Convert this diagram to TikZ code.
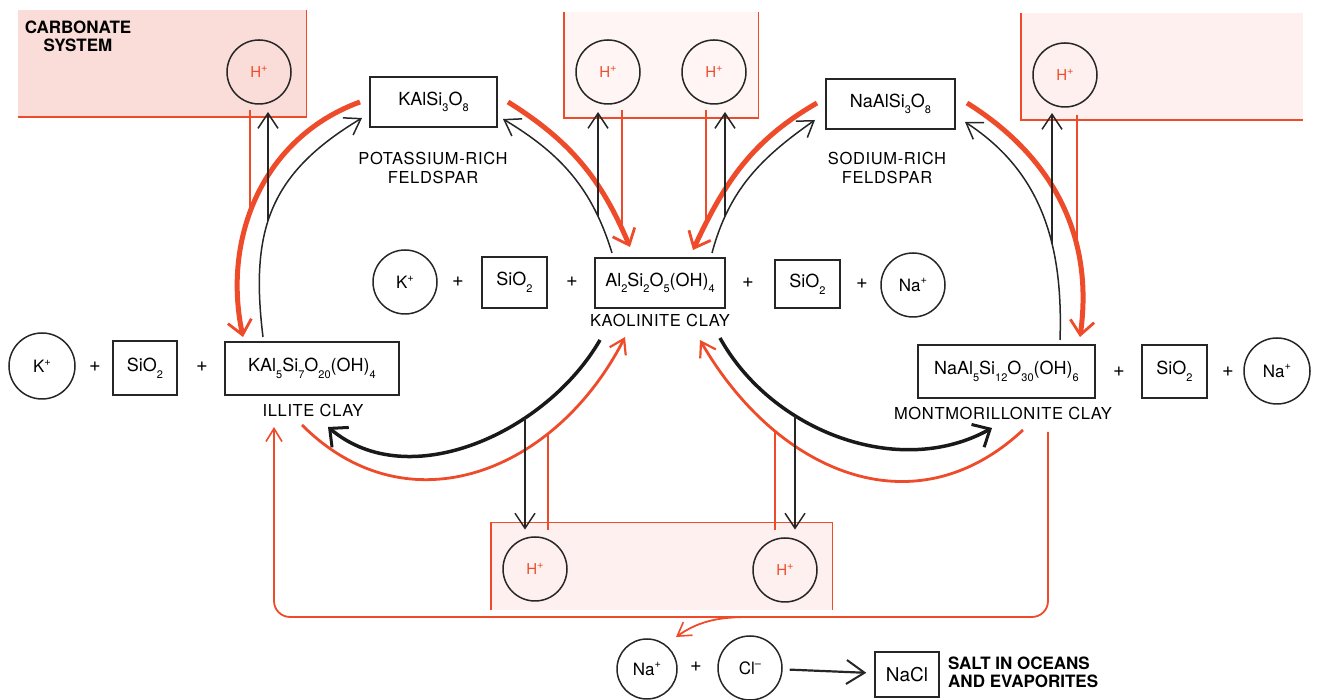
\documentclass[tikz,border=0pt]{standalone}
\usepackage{fontspec}
\setmainfont{TeX Gyre Heros}
\newfontfamily\spacedfont[LetterSpace=4]{TeX Gyre Heros}
\usetikzlibrary{arrows.meta,intersections,calc}
\definecolor{rd}{HTML}{EE4B2B}
\definecolor{pinkA}{HTML}{FADCD9}
\definecolor{pinkB}{HTML}{FEF5F4}
\definecolor{pinkC}{HTML}{FDF0EE}
\newcommand\chsub[1]{\raisebox{-0.7ex}{\fontsize{11}{11}\selectfont #1}}
\newcommand\chsup[1]{\raisebox{0.8ex}{\fontsize{11}{11}\selectfont #1}}
\tikzset{
  ion/.style={circle, draw=black!85, line width=1.5pt, minimum size=64pt, inner sep=0pt,
    font=\fontsize{17}{17}\selectfont},
  hion/.style={ion, text=rd, font=\fontsize{15}{15}\selectfont},
  frm/.style={draw=black!85, line width=1.5pt, inner sep=0pt, font=\fontsize{18}{18}\selectfont},
  lbl/.style={font=\spacedfont\fontsize{16.5}{19}\selectfont, align=center, inner sep=0pt},
  capt/.style={font=\bfseries\fontsize{17}{17.5}\selectfont, inner sep=0pt},
  plus/.style={font=\fontsize{20}{20}\selectfont, inner sep=0pt},
  pinkbox/.style={inner sep=0pt, anchor=south west},
  redge/.style={draw=rd, line width=1.5pt},
  barb/.style={-{Straight Barb[length=15pt,width=20pt]}},
  thinarc/.style={draw=black!85, line width=1.5pt, barb},
  thickarc/.style={draw=black!90, line width=3.5pt,
    -{Straight Barb[length=14pt,width=26pt,line width=3pt]}},
  redthick/.style={draw=rd, line width=5pt,
    -{Straight Barb[length=14pt,width=24pt,line width=2.8pt]}},
  redlow/.style={draw=rd, line width=2.8pt,
    -{Straight Barb[length=14pt,width=18pt,line width=2.2pt]}},
  redthin/.style={draw=rd, line width=1.8pt},
  upline/.style={draw=black!85, line width=1.5pt, barb},
}
\begin{document}
\begin{tikzpicture}[x=1pt,y=1pt]
\useasboundingbox (0,0) rectangle (1318,700);

% reservoirs of hydrogen ions
\node[pinkbox, fill=pinkA, minimum width=288pt, minimum height=107pt] (carb) at (18,583) {};
\node[pinkbox, fill=pinkB, minimum width=194pt, minimum height=106pt] (midbox) at (564,582) {};
\node[pinkbox, fill=pinkC, minimum width=282pt, minimum height=107pt] (rbox) at (1021,580) {};
\node[pinkbox, fill=pinkC, minimum width=341pt, minimum height=87pt] (bbox) at (491,90) {};
\draw[redge] (carb.north east) -- (carb.south east) -- (carb.south west);
\draw[redge] (midbox.north west) -- (midbox.south west) -- (midbox.south east) -- (midbox.north east);
\draw[redge] (rbox.north west) -- (rbox.south west) -- (rbox.south east);
\draw[redge] (bbox.south west) -- (bbox.north west) -- (bbox.north east) -- (bbox.south east);

\node[capt, align=center] (carbtxt) at (78,663.5) {CARBONATE\\SYSTEM};

% hydrogen ions
\node[hion] (h1) at (259,628) {H\chsup{+}};
\node[hion] (h2) at (608,628) {H\chsup{+}};
\node[hion] (h3) at (714,628) {H\chsup{+}};
\node[hion] (h4) at (1065,625) {H\chsup{+}};
\node[hion] (h5) at (535,131) {H\chsup{+}};
\node[hion] (h6) at (785,130) {H\chsup{+}};

% feldspars
\node[frm, minimum width=127pt, minimum height=50pt] (kfs) at (433.5,598) {KAlSi\chsub{3}O\chsub{8}};
\node[lbl] (kfslbl) at (433,532.5) {POTASSIUM-RICH\\FELDSPAR};
\node[frm, minimum width=129pt, minimum height=50pt] (nafs) at (890.5,596) {NaAlSi\chsub{3}O\chsub{8}};
\node[lbl] (nafslbl) at (887,532) {SODIUM-RICH\\FELDSPAR};

% kaolinite row
\node[ion] (kmid) at (405,418) {K\chsup{+}};
\node[plus] (p1) at (458,418) {+};
\node[frm, minimum width=65pt, minimum height=51pt] (si1) at (514.5,417.5) {SiO\chsub{2}};
\node[plus] (p2) at (572,418) {+};
\node[frm, minimum width=130pt, minimum height=50pt] (kao) at (660,417) {Al\chsub{2}Si\chsub{2}O\chsub{5}(OH)\chsub{4}};
\node[lbl] (kaolbl) at (660,380) {KAOLINITE CLAY};
\node[plus] (p3) at (748,417) {+};
\node[frm, minimum width=65pt, minimum height=48pt] (si2) at (807.5,416) {SiO\chsub{2}};
\node[plus] (p4) at (862,416) {+};
\node[ion] (namid) at (913,415) {Na\chsup{+}};

% illite row
\node[ion, minimum size=66pt] (kleft) at (42,334) {K\chsup{+}};
\node[plus] (p5) at (95,333) {+};
\node[frm, minimum width=64pt, minimum height=54pt] (si3) at (145,332) {SiO\chsub{2}};
\node[plus] (p6) at (202,333) {+};
\node[frm, minimum width=174pt, minimum height=53pt] (ill) at (312,331.5) {KAl\chsub{5}Si\chsub{7}O\chsub{20}(OH)\chsub{4}};
\node[lbl] (illlbl) at (313,290) {ILLITE CLAY};

% montmorillonite row
\node[frm, minimum width=177pt, minimum height=53pt] (mont) at (1006.5,328.5) {NaAl\chsub{5}Si\chsub{12}O\chsub{30}(OH)\chsub{6}};
\node[lbl] (montlbl) at (1003,287) {MONTMORILLONITE CLAY};
\node[plus] (p7) at (1119,328) {+};
\node[frm, minimum width=65pt, minimum height=53pt] (si4) at (1174.5,328.5) {SiO\chsub{2}};
\node[plus] (p8) at (1228,328) {+};
\node[ion, minimum size=66pt] (naright) at (1277,329) {Na\chsup{+}};

% salt
\node[ion, minimum size=60pt] (nabot) at (647,31) {Na\chsup{+}};
\node[plus] (p9) at (696,33) {+};
\node[ion] (clbot) at (750,32) {Cl\chsup{--}};
\node[frm, minimum width=64pt, minimum height=45pt, font=\fontsize{19}{19}\selectfont] (nacl) at (907,25.5) {NaCl};
\node[capt, align=left, anchor=west] (salttxt) at (948,27.5) {SALT IN OCEANS\\AND EVAPORITES};
\draw[draw=black!85, line width=2.2pt, -{Straight Barb[length=18pt,width=24pt,line width=2pt]},
  shorten <=7pt, shorten >=8pt] (clbot) -- (nacl);

% arc end points
\coordinate (a1s) at (360,598);  \coordinate (a1e) at (243,363);
\coordinate (a2s) at (263,363);  \coordinate (a2e) at (362,582);
\coordinate (a3s) at (508,598);  \coordinate (a3e) at (630,453);
\coordinate (a4s) at (612,447);  \coordinate (a4e) at (503,581);
\coordinate (a5s) at (817,597);  \coordinate (a5e) at (693,450);
\coordinate (a6s) at (712,447);  \coordinate (a6e) at (815,580);
\coordinate (a7s) at (967,597);  \coordinate (a7e) at (1080,363);
\coordinate (a8s) at (1060,360); \coordinate (a8e) at (965,578);
\coordinate (b1s) at (600,360);  \coordinate (b1e) at (328,273);
\coordinate (b2s) at (302,275);  \coordinate (b2e) at (625,363);
\coordinate (b3s) at (720,362);  \coordinate (b3e) at (992,272);
\coordinate (b4s) at (1023,270); \coordinate (b4e) at (700,360);

% weathering and reverse-weathering arcs
\draw[redthick, name path=rA] (a1s) to[out=200,in=102] (a1e);
\draw[thinarc, name path=bA] (a2s) to[out=97,in=211,looseness=1.15] (a2e);
\draw[redthick, name path=rB] (a3s) to[out=-32,in=113] (a3e);
\draw[thinarc, name path=bB] (a4s) to[out=107,in=-31] (a4e);
\draw[redthick, name path=rC] (a5s) to[out=210,in=65] (a5e);
\draw[thinarc, name path=bC] (a6s) to[out=75,in=215] (a6e);
\draw[redthick, name path=rD] (a7s) to[out=-32,in=82] (a7e);
\draw[thinarc, name path=bD] (a8s) to[out=88,in=-33] (a8e);
\draw[thickarc, name path=bE] (b1s) to[out=240,in=-40,looseness=0.95] (b1e);
\draw[redlow, name path=rE] (b2s) to[out=-45,in=243,looseness=1.15] (b2e);
\draw[thickarc, name path=bF] (b3s) to[out=-61,in=209,looseness=0.95] (b3e);
\draw[redlow, name path=rF] (b4s) to[out=223,in=-60,looseness=1.15] (b4e);

% vertical guides for the branches
\path[name path=g250] (250,400) -- (250,600);
\path[name path=g268] (268,400) -- (268,600);
\path[name path=g598] (598,400) -- (598,600);
\path[name path=g622] (622,400) -- (622,600);
\path[name path=g706] (706,400) -- (706,600);
\path[name path=g725] (725,400) -- (725,600);
\path[name path=g1052] (1052,380) -- (1052,600);
\path[name path=g1077] (1077,380) -- (1077,600);
\path[name path=g525] (525,180) -- (525,330);
\path[name path=g548] (548,180) -- (548,330);
\path[name path=g775] (775,180) -- (775,330);
\path[name path=g795] (795,180) -- (795,330);
\path[name intersections={of=rA and g250, by=x1}];
\path[name intersections={of=bA and g268, by=y1}];
\path[name intersections={of=bB and g598, by=y2}];
\path[name intersections={of=rB and g622, by=x2}];
\path[name intersections={of=rC and g706, by=x3}];
\path[name intersections={of=bC and g725, by=y3}];
\path[name intersections={of=bD and g1052, by=y4}];
\path[name intersections={of=rD and g1077, by=x4}];
\path[name intersections={of=bE and g525, by=y5}];
\path[name intersections={of=rE and g548, by=x5}];
\path[name intersections={of=rF and g775, by=x6}];
\path[name intersections={of=bF and g795, by=y6}];

% hydrogen ions released (black) and consumed (red)
\draw[upline] (y1) -- ($(y1 |- carb.south)+(0,5)$);
\draw[redthin] (x1) -- ($(x1 |- carb.south)+(0,7)$);
\draw[upline] (y2) -- ($(y2 |- midbox.south)+(0,6)$);
\draw[redthin] (x2) -- ($(x2 |- midbox.south)+(0,8)$);
\draw[upline] (y3) -- ($(y3 |- midbox.south)+(0,6)$);
\draw[redthin] (x3) -- ($(x3 |- midbox.south)+(0,8)$);
\draw[upline] (y4) -- ($(y4 |- rbox.south)+(0,7)$);
\draw[redthin] (x4) -- ($(x4 |- rbox.south)+(0,5)$);
\draw[upline] (y5) -- ($(y5 |- bbox.north)+(0,-7)$);
\draw[redthin] (x5) -- ($(x5 |- bbox.north)+(0,-7)$);
\draw[upline] (y6) -- ($(y6 |- bbox.north)+(0,-7)$);
\draw[redthin] (x6) -- ($(x6 |- bbox.north)+(0,-7)$);

% sodium returned to the sea, and the loop back to illite
\coordinate (fbR) at (1048,268);
\coordinate (fbL) at (274,273);
\coordinate (fbY) at (0,83);
\coordinate (fbB) at (772,83);
\coordinate (fbN) at (676,63);
\draw[redthin, rounded corners=16pt, -{Straight Barb[length=13pt,width=16pt,line width=1.6pt]}]
  (fbR) -- (fbR |- fbY) -| (fbL);
\draw[redthin, -{Straight Barb[length=13pt,width=16pt,line width=1.6pt]}]
  (fbB) to[out=180,in=35] (fbN);
\end{tikzpicture}
\end{document}
